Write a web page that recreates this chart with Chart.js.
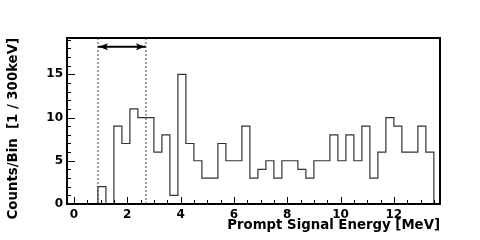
<!DOCTYPE html>
<html lang="en">
  <head>
    <meta charset="UTF-8" />
    <title>Prompt Signal Energy</title>
    <script src="https://cdn.jsdelivr.net/npm/chart.js"></script>
    <style>
      * {
        margin: 0;
        padding: 0;
        box-sizing: border-box;
      }

      body {
        background-color: #ffffff;
      }

      .chart-container {
        position: relative;
        width: 480px;
        height: 240px;
      }
    </style>
  </head>
  <body>
    <div class="chart-container">
      <canvas id="energyChart"></canvas>
    </div>

    <script>
      // histogram: 0.3 MeV bins starting at 0 MeV
      const binStart = 0;
      const binWidth = 0.3;
      const counts = [
        0, 0, 0, 2, 0, 9, 7, 11, 10, 10, 6, 8, 1, 15, 7, 5, 3, 3, 7, 5, 5, 9,
        3, 4, 5, 3, 5, 5, 4, 3, 5, 5, 8, 5, 8, 5, 9, 3, 6, 10, 9, 6, 6, 9, 6,
      ];

      // signal window marked with dotted lines and an arrow
      const windowEdges = [0.9, 2.7];
      const arrowLevel = 18.2;

      const xTicks = [0, 2, 4, 6, 8, 10, 12];
      const yTicks = [0, 5, 10, 15];
      const xRange = [-0.26, 13.73];
      const yRange = [0, 19.2];

      const xTitle = "Prompt Signal Energy [MeV]";
      const yTitle = "Counts/Bin  [1 / 300keV]";

      // step points: each bin's low edge, then one closing point at the end
      const histPoints = counts.map((c, i) => ({
        x: binStart + i * binWidth,
        y: c,
      }));
      histPoints.push({ x: binStart + counts.length * binWidth, y: 0 });

      const fontFamily = "'DejaVu Sans', sans-serif";

      // frame, inward ticks and arrow heads (ROOT look)
      const rootStyle = {
        id: "rootStyle",
        afterDatasetsDraw(chart) {
          const ctx = chart.ctx;
          const area = chart.chartArea;
          const xs = chart.scales.x;
          const ys = chart.scales.y;
          ctx.save();

          // arrow heads
          const ay = ys.getPixelForValue(arrowLevel);
          const ax1 = xs.getPixelForValue(windowEdges[0]);
          const ax2 = xs.getPixelForValue(windowEdges[1]);
          ctx.fillStyle = "#000";
          ctx.beginPath();
          ctx.moveTo(ax1 + 1, ay);
          ctx.lineTo(ax1 + 10, ay - 3.5);
          ctx.lineTo(ax1 + 8, ay);
          ctx.lineTo(ax1 + 10, ay + 3.5);
          ctx.closePath();
          ctx.fill();
          ctx.beginPath();
          ctx.moveTo(ax2 - 1, ay);
          ctx.lineTo(ax2 - 10, ay - 3.5);
          ctx.lineTo(ax2 - 8, ay);
          ctx.lineTo(ax2 - 10, ay + 3.5);
          ctx.closePath();
          ctx.fill();

          // ticks
          ctx.strokeStyle = "#000";
          ctx.lineWidth = 1;
          ctx.beginPath();
          for (let v = 0; v <= xs.max; v += 0.5) {
            const px = Math.round(xs.getPixelForValue(v)) + 0.5;
            const len = v % 2 === 0 ? 7 : 4;
            ctx.moveTo(px, area.bottom);
            ctx.lineTo(px, area.bottom - len);
          }
          for (let v = 0; v <= ys.max; v += 1) {
            const py = Math.round(ys.getPixelForValue(v)) + 0.5;
            const len = v % 5 === 0 ? 8 : 4;
            ctx.moveTo(area.left, py);
            ctx.lineTo(area.left + len, py);
          }
          ctx.stroke();

          // frame
          ctx.lineWidth = 2;
          ctx.strokeRect(
            area.left,
            area.top,
            area.right - area.left,
            area.bottom - area.top
          );
          ctx.restore();
        },
      };

      new Chart(document.getElementById("energyChart"), {
        type: "line",
        data: {
          datasets: [
            {
              label: "data",
              data: histPoints,
              stepped: "before",
              borderColor: "#333333",
              borderWidth: 1.2,
              pointRadius: 0,
              fill: false,
            },
            {
              label: "window low",
              data: [
                { x: windowEdges[0], y: yRange[0] },
                { x: windowEdges[0], y: yRange[1] },
              ],
              borderColor: "#444444",
              borderWidth: 1,
              borderDash: [2, 2],
              pointRadius: 0,
            },
            {
              label: "window high",
              data: [
                { x: windowEdges[1], y: yRange[0] },
                { x: windowEdges[1], y: yRange[1] },
              ],
              borderColor: "#444444",
              borderWidth: 1,
              borderDash: [2, 2],
              pointRadius: 0,
            },
            {
              label: "arrow",
              data: [
                { x: windowEdges[0], y: arrowLevel },
                { x: windowEdges[1], y: arrowLevel },
              ],
              borderColor: "#000000",
              borderWidth: 2,
              pointRadius: 0,
            },
          ],
        },
        options: {
          responsive: true,
          maintainAspectRatio: false,
          animation: false,
          layout: {
            padding: { left: 0, top: 38, right: 40, bottom: 0 },
          },
          plugins: {
            legend: { display: false },
            tooltip: { enabled: false },
          },
          scales: {
            x: {
              type: "linear",
              min: xRange[0],
              max: xRange[1],
              grid: { display: false, drawTicks: false },
              border: { display: false },
              afterBuildTicks: (scale) => {
                scale.ticks = xTicks.map((v) => ({ value: v }));
              },
              afterFit: (scale) => {
                scale.height = 36;
              },
              ticks: {
                color: "#000",
                padding: 4,
                maxRotation: 0,
                font: { family: fontFamily, size: 12, weight: "bold" },
              },
              title: {
                display: true,
                text: xTitle,
                align: "end",
                color: "#000",
                padding: { top: 0, bottom: 6 },
                font: { family: fontFamily, size: 13.3, weight: "bold" },
              },
            },
            y: {
              min: yRange[0],
              max: yRange[1],
              grid: { display: false, drawTicks: false },
              border: { display: false },
              afterBuildTicks: (scale) => {
                scale.ticks = yTicks.map((v) => ({ value: v }));
              },
              afterFit: (scale) => {
                scale.width = 67;
              },
              ticks: {
                color: "#000",
                padding: 4,
                font: { family: fontFamily, size: 12, weight: "bold" },
              },
              title: {
                display: true,
                text: yTitle,
                align: "end",
                color: "#000",
                padding: { top: 6, bottom: 0 },
                font: { family: fontFamily, size: 13.3, weight: "bold" },
              },
            },
          },
        },
        plugins: [rootStyle],
      });
    </script>
  </body>
</html>
